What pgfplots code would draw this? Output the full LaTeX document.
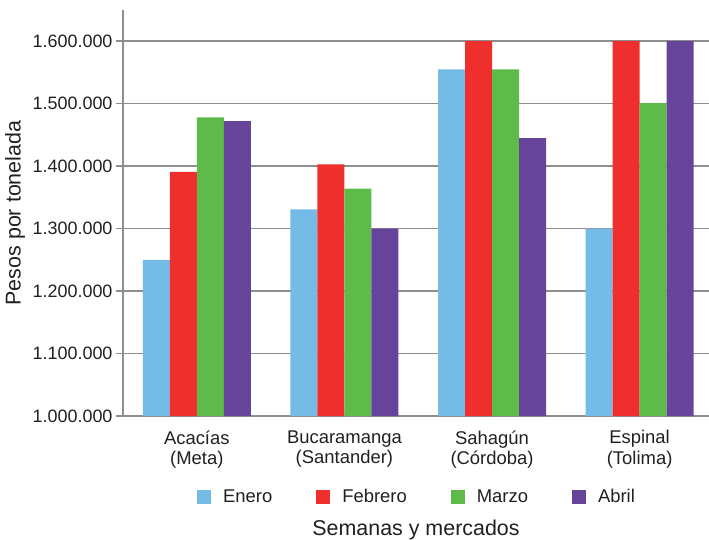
\documentclass[border=0pt]{standalone}
\usepackage{fontspec}
\setmainfont{Liberation Sans}
\usepackage{pgfplots}
\pgfplotsset{compat=1.18}
\usetikzlibrary{calc}
\definecolor{cEne}{HTML}{74BBE6}
\definecolor{cFeb}{HTML}{EE2F2E}
\definecolor{cMar}{HTML}{5EBB49}
\definecolor{cAbr}{HTML}{654499}
\definecolor{gridc}{HTML}{8E8E8E}
\definecolor{txt}{HTML}{231F20}
\begin{document}
\begin{tikzpicture}
\begin{axis}[
  scale only axis,
  width=586bp, height=406bp,
  xmin=-0.5, xmax=3.47,
  ymin=1000000, ymax=1650000,
  ybar=0pt, bar width=27bp,
  axis y line=left, axis x line=bottom,
  axis line style={-, gridc, line width=1.5bp},
  ytick={1000000,1100000,1200000,1300000,1400000,1500000,1600000},
  scaled y ticks=false,
  /pgf/number format/assume math mode=true,
  yticklabel style={/pgf/number format/fixed, /pgf/number format/precision=0, /pgf/number format/1000 sep={.}, font=\fontsize{18}{21}\selectfont, text=txt},
  ytick style={gridc, line width=1.5bp},
  tick align=outside, major tick length=7bp,
  ymajorgrids, grid style={gridc, line width=1.5bp},
  xtick={0,1,2,3},
  xticklabels={{Acacías\\(Meta)},{Bucaramanga\\(Santander)},{Sahagún\\(Córdoba)},{Espinal\\(Tolima)}},
  xticklabel style={align=center, font=\fontsize{18.5}{20.5}\selectfont, text=txt, yshift=-4bp},
  xtick style={draw=none},
  ylabel={Pesos por tonelada},
  ylabel style={font=\fontsize{21.5}{24}\selectfont, text=txt, at={(rel axis cs:-0.1843,0.5)}, anchor=center},
  xlabel={Semanas y mercados},
  xlabel style={font=\fontsize{21.5}{24}\selectfont, text=txt, at={(rel axis cs:0.5,-0.28)}, anchor=center},
  legend columns=4,
  legend style={at={(0.5,-0.1995)}, anchor=center, draw=none, fill=none,
    font=\fontsize{18.5}{22}\selectfont, text=txt,
    nodes={inner sep=0pt},
    /tikz/every odd column/.append style={column sep=12bp},
    /tikz/every even column/.append style={column sep=44bp}},
  legend image code/.code={\path[fill,draw=none] (0bp,-7bp) rectangle (14bp,7bp);},
]
\addplot[fill=cEne, draw=none] coordinates {(0,1250000) (1,1331000) (2,1555000) (3,1300000)};
\addplot[fill=cFeb, draw=none] coordinates {(0,1391000) (1,1403000) (2,1600000) (3,1600000)};
\addplot[fill=cMar, draw=none] coordinates {(0,1478000) (1,1364000) (2,1555000) (3,1501000)};
\addplot[fill=cAbr, draw=none] coordinates {(0,1472000) (1,1300000) (2,1445000) (3,1600000)};
\legend{Enero,Febrero,Marzo,Abril}
\coordinate (bl) at (rel axis cs:0,0);
\coordinate (tr) at (rel axis cs:1,1);
\end{axis}
\pgfresetboundingbox
\useasboundingbox ($(bl)+(-123bp,-124bp)$) rectangle ($(tr)+(0bp,10bp)$);
\end{tikzpicture}
\end{document}
